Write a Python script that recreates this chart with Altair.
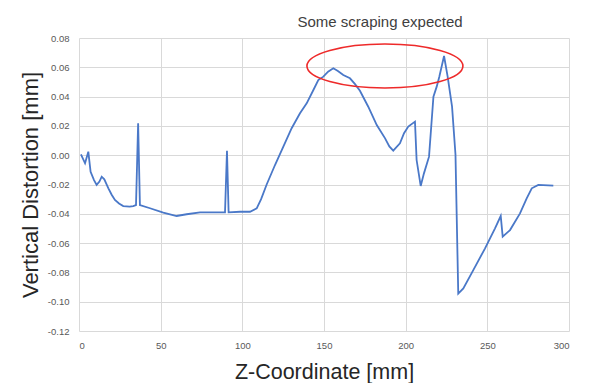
import altair as alt
import pandas as pd

# Z-coordinate (mm) and vertical distortion (mm)
z_mm = [1.2, 3.7, 5.7, 7.1, 9.2, 10.8, 12.5, 13.9, 15.5, 18, 20, 22, 24.5, 27.1,
        31, 33.2, 34.9, 36.2, 37.3, 43.5, 51.6, 59.8, 65.9, 74.1,
        82.2, 89.4, 90.6, 91.6, 98.6, 104.7, 108.8, 111.5, 114.9, 120, 125.1,
        130.2, 135.3, 139.4, 143.5, 146.5, 149.6, 152.5, 155.7, 158.5, 161.8, 165.9, 169, 172,
        177.1, 182.3, 187.4, 190, 192.4, 196.5, 199, 201.6, 205.7, 206.7, 209.2, 211.2,
        214.3, 217, 219, 220.6, 223.5, 225.7, 228.4, 230.5, 232.2, 235.3,
        241.4, 248.6, 254.7, 258.2, 259.4, 263.9, 270, 274.1, 277.2, 281.2,
        290.4]
distortion = [0.0006, -0.0055, 0.0024, -0.0113, -0.017, -0.0203, -0.0180, -0.0147, -0.0165, -0.0226, -0.0270, -0.0306, -0.0330, -0.0347,
              -0.0351, -0.0347, -0.034, 0.0218, -0.034, -0.0362, -0.0392, -0.0415, -0.0403, -0.039,
              -0.039, -0.039, 0.0031, -0.039, -0.0386, -0.0386, -0.0363, -0.0300, -0.0200, -0.0067, 0.0058,
              0.0184, 0.0286, 0.0354, 0.0445, 0.0513, 0.0536, 0.0570, 0.0593, 0.0575, 0.0547, 0.0525, 0.0485, 0.0440,
              0.0331, 0.0206, 0.0115, 0.0060, 0.0031, 0.0081, 0.0150, 0.0195, 0.0229, -0.0033, -0.021, -0.0124,
              -0.001, 0.04, 0.0468, 0.0536, 0.0677, 0.0536, 0.0331, 0.0005, -0.0945, -0.0909,
              -0.0784, -0.0636, -0.0499, -0.0415, -0.0556, -0.0511, -0.0397, -0.0294, -0.0226, -0.0203,
              -0.0208]

x_ticks = [0, 50, 100, 150, 200, 250, 300]
y_ticks = [-0.12, -0.10, -0.08, -0.06, -0.04, -0.02, 0.0, 0.02, 0.04, 0.06, 0.08]

# annotation: ellipse around the scraping zone and its label
note_text = ["Some scraping expected"]
note_x = [184.3]
note_y = [0.0875]
ellipse_x = [187.3]
ellipse_y = [0.0609]

df = pd.DataFrame({"z": z_mm, "d": distortion})
note_df = pd.DataFrame({"t": note_text, "x": note_x, "y": note_y})
ell_df = pd.DataFrame({"x": ellipse_x, "y": ellipse_y})

FONT = "Liberation Sans"

xscale = alt.Scale(domain=[0, 300], nice=False, zero=False)
yscale = alt.Scale(domain=[-0.12, 0.08], nice=False, zero=False)

x_axis = alt.Axis(
    values=x_ticks, tickCount=20, title="Z-Coordinate [mm]", grid=True, gridColor="#d9d9d9",
    domain=False, ticks=False, labelFont=FONT, labelFontSize=9.5, labelColor="#595959",
    labelPadding=9, titleFont=FONT, titleFontSize=21.5, titleFontWeight="normal",
    titleColor="#262626", titleBaseline="alphabetic", titleY=47, titleX=245,
)
y_axis = alt.Axis(
    values=y_ticks, tickCount=20, title="Vertical Distortion [mm]", grid=True, gridColor="#d9d9d9",
    domain=False, ticks=False, labelFont=FONT, labelFontSize=9.5, labelColor="#595959",
    labelPadding=10, labelExpr="replace(format(datum.value, '.2f'), '\u2212', '-')",
    titleFont=FONT, titleFontSize=22, titleFontWeight="normal", titleColor="#262626",
    titleBaseline="alphabetic", titleAngle=270, titleX=-42, titleY=146.5, titleAlign="center",
)

line = alt.Chart(df).mark_line(color="#4a78c8", strokeWidth=1.8).encode(
    x=alt.X("z:Q", scale=xscale, axis=x_axis),
    y=alt.Y("d:Q", scale=yscale, axis=y_axis),
)

ellipse = alt.Chart(ell_df).mark_point(
    shape="M -1 0 A 1 0.282 0 1 1 1 0 A 1 0.282 0 1 1 -1 0 Z",
    size=24336, filled=False, stroke="#ee2a2a", strokeWidth=1.6, opacity=1,
).encode(
    x=alt.X("x:Q", scale=xscale, axis=x_axis),
    y=alt.Y("y:Q", scale=yscale, axis=y_axis),
)

note = alt.Chart(note_df).mark_text(
    font=FONT, fontSize=15, color="#404040", align="center", baseline="alphabetic",
).encode(
    x=alt.X("x:Q", scale=xscale, axis=x_axis),
    y=alt.Y("y:Q", scale=yscale, axis=y_axis),
    text="t:N",
)

chart = alt.layer(line, ellipse, note).properties(
    width=490, height=293,
    autosize=alt.AutoSizeParams(type="none"),
    padding={"left": 79, "top": 38, "right": 20, "bottom": 52},
    background="white",
).configure_view(strokeWidth=0)

chart.save("out.html", embed_options={"renderer": "svg", "actions": False})
